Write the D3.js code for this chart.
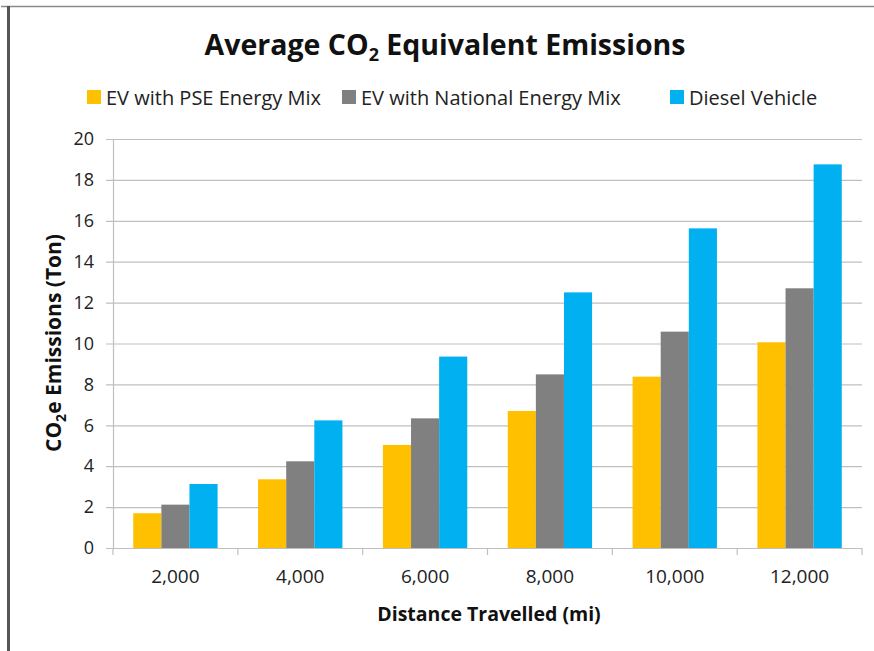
<!DOCTYPE html>
<html>
<head>
<meta charset="utf-8">
<script src="https://cdn.jsdelivr.net/npm/d3@7"></script>
<style>
  body { margin: 0; background: #fff; }
  svg { display: block; font-family: "Open Sans", sans-serif; }
</style>
</head>
<body>
<svg id="chart"></svg>
<script>
// データ
const distances = ['2,000', '4,000', '6,000', '8,000', '10,000', '12,000'];
const seriesNames = ['EV with PSE Energy Mix', 'EV with National Energy Mix', 'Diesel Vehicle'];
const psePoints = [1.7, 3.36, 5.04, 6.7, 8.38, 10.06];
const nationalPoints = [2.12, 4.24, 6.34, 8.49, 10.58, 12.7];
const dieselPoints = [3.13, 6.24, 9.36, 12.5, 15.63, 18.76];
const yTicks = [0, 2, 4, 6, 8, 10, 12, 14, 16, 18, 20];
const colors = ['#FFC000', '#808080', '#00B0F0'];

const width = 874, height = 651;
const margin = {top: 139, right: 12, bottom: 103, left: 113};

const svg = d3.select('#chart')
    .attr('width', width)
    .attr('height', height);

// 枠
svg.append('line')
    .attr('x1', 1).attr('x2', width).attr('y1', 6.5).attr('y2', 6.5)
    .attr('stroke', '#8a8a8a').attr('stroke-width', 1.5);
svg.append('line')
    .attr('x1', 8.5).attr('x2', 8.5).attr('y1', 6).attr('y2', height)
    .attr('stroke', '#555').attr('stroke-width', 3);

const chart = svg.append('g')
    .attr('transform', `translate(${margin.left}, ${margin.top})`);

const inner_width = width - margin.left - margin.right;
const inner_height = height - margin.top - margin.bottom;

const data = distances.map((d, i) => ({
    dist: d,
    values: [psePoints[i], nationalPoints[i], dieselPoints[i]]
}));

const xscale = d3.scaleBand()
    .domain(distances)
    .range([0, inner_width]);

const xinner = d3.scaleBand()
    .domain([0, 1, 2])
    .range([0, xscale.bandwidth()])
    .paddingOuter(0.72)
    .paddingInner(0);

const yscale = d3.scaleLinear()
    .domain([0, 20])
    .range([inner_height, 0]);

// グリッド
chart.append('g')
    .selectAll('line')
    .data(yTicks)
    .join('line')
    .attr('x1', -7)
    .attr('x2', inner_width)
    .attr('y1', d => yscale(d) + 0.5)
    .attr('y2', d => yscale(d) + 0.5)
    .attr('stroke', '#bfbfbf')
    .attr('stroke-width', 1.2);

// 棒
chart.append('g')
    .selectAll('g')
    .data(data)
    .join('g')
    .attr('transform', d => `translate(${xscale(d.dist)}, 0)`)
    .selectAll('rect')
    .data(d => d.values)
    .join('rect')
    .attr('x', (d, i) => xinner(i))
    .attr('width', xinner.bandwidth())
    .attr('y', d => yscale(d))
    .attr('height', d => inner_height - yscale(d))
    .attr('fill', (d, i) => colors[i]);

// y軸
const yaxis = d3.axisLeft(yscale)
    .tickValues(yTicks)
    .tickSize(0)
    .tickPadding(19);
const yaxis_group = chart.append('g').call(yaxis);
yaxis_group.select('.domain').attr('stroke', '#bfbfbf').attr('stroke-width', 1.2);
yaxis_group.selectAll('text')
    .style('font-size', '18px')
    .style('font-family', '"Open Sans", sans-serif')
    .attr('fill', '#222');

// x軸
const xaxis = d3.axisBottom(xscale)
    .tickSize(0)
    .tickPadding(22);
const xaxis_group = chart.append('g')
    .attr('transform', `translate(0, ${inner_height})`)
    .call(xaxis);
xaxis_group.select('.domain').remove();
xaxis_group.selectAll('text')
    .style('font-size', '19px')
    .style('font-family', '"Open Sans", sans-serif')
    .attr('fill', '#222');
xaxis_group.append('line')
    .attr('x1', 0).attr('x2', inner_width)
    .attr('y1', 0.5).attr('y2', 0.5)
    .attr('stroke', '#bfbfbf').attr('stroke-width', 1.2);
xaxis_group.selectAll('.sep')
    .data(distances.concat(['end']))
    .join('line')
    .attr('class', 'sep')
    .attr('x1', (d, i) => i * xscale.step())
    .attr('x2', (d, i) => i * xscale.step())
    .attr('y1', 0).attr('y2', 7)
    .attr('stroke', '#bfbfbf').attr('stroke-width', 1.2);

// タイトル
const title = svg.append('text')
    .attr('x', 445)
    .attr('y', 55)
    .attr('text-anchor', 'middle')
    .style('font-size', '28.5px')
    .style('font-weight', 'bold')
    .attr('fill', '#111');
title.append('tspan').text('Average CO');
title.append('tspan').attr('dy', 6).style('font-size', '18px').text('2');
title.append('tspan').attr('dy', -6).text(' Equivalent Emissions');

// 凡例
const legendX = [87, 342, 670];
const legend = svg.append('g')
    .selectAll('g')
    .data(seriesNames)
    .join('g')
    .attr('transform', (d, i) => `translate(${legendX[i]}, 97)`);
legend.append('rect')
    .attr('x', 0).attr('y', -7)
    .attr('width', 14).attr('height', 14)
    .attr('fill', (d, i) => colors[i]);
legend.append('text')
    .attr('x', 19)
    .attr('y', 8)
    .style('font-size', '20px')
    .attr('fill', '#222')
    .text(d => d);

// x軸ラベル
svg.append('text')
    .attr('x', 489)
    .attr('y', 621)
    .attr('text-anchor', 'middle')
    .style('font-size', '19.5px')
    .style('font-weight', 'bold')
    .attr('fill', '#111')
    .text('Distance Travelled (mi)');

// y軸ラベル
const ylabel = svg.append('text')
    .attr('transform', 'translate(61, 343) rotate(-90)')
    .attr('text-anchor', 'middle')
    .style('font-size', '21px')
    .style('font-weight', 'bold')
    .attr('fill', '#111');
ylabel.append('tspan').text('CO');
ylabel.append('tspan').attr('dy', 5).style('font-size', '14px').text('2');
ylabel.append('tspan').attr('dy', -5).text('e Emissions (Ton)');
</script>
</body>
</html>
